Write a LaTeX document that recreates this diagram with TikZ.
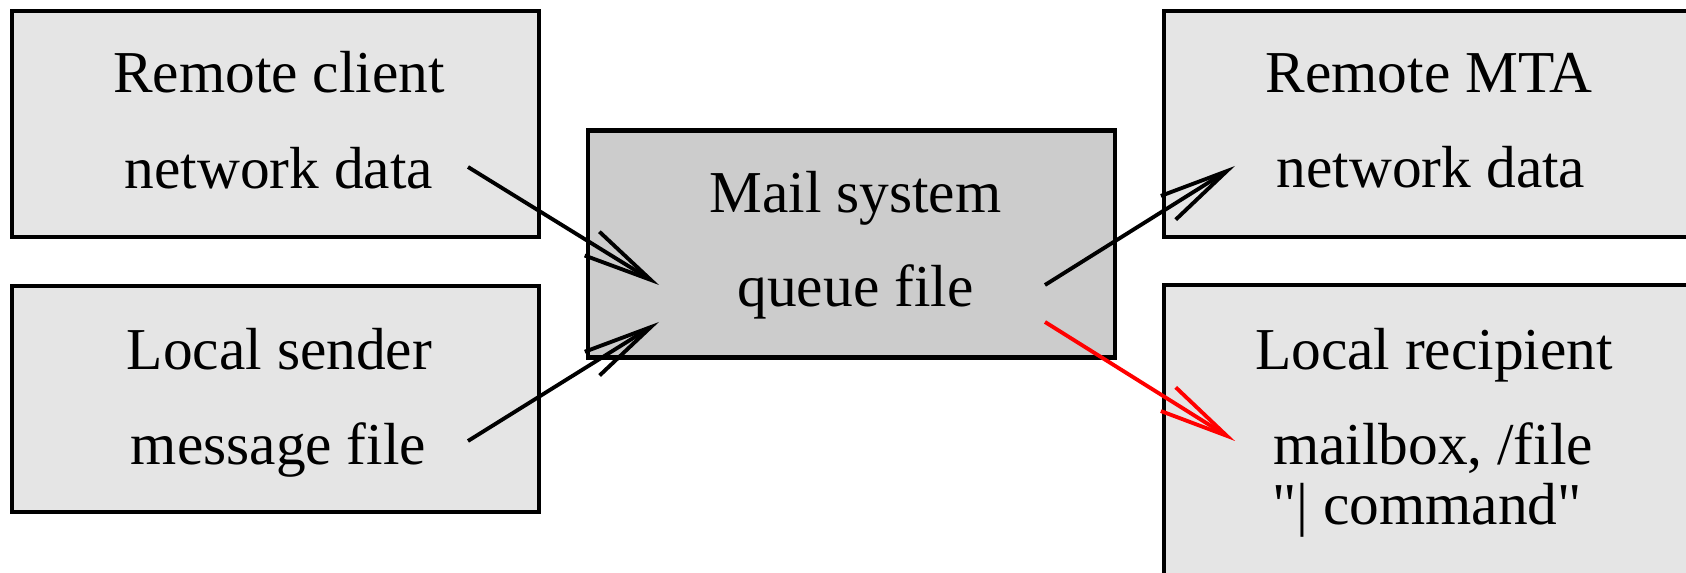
\documentclass[tikz,border=0pt]{standalone}
\usepackage{fontspec}
\setmainfont{Liberation Serif}[Ligatures=TeXOff]
\usetikzlibrary{arrows.meta}

\begin{document}
\begin{tikzpicture}[x=1cm,y=1cm,line width=1.25pt,
  box/.style={draw,minimum width=5.27cm,minimum height=2.26cm,inner sep=0pt},
  lbl/.style={anchor=base,inner sep=0pt,font=\fontsize{16.9}{20}\selectfont},
  flow/.style={line width=1.1pt,-{Straight Barb[length=6.9mm,width=2.8mm]}}]
 \useasboundingbox (0,0) rectangle (16.86,5.73);
 % boxes
 \foreach \nm/\x/\y/\h/\shade in {client/2.755/4.487/2.26/10,sender/2.755/1.74/2.26/10,
   queue/8.517/3.29/2.27/20,mta/14.275/4.487/2.26/10,rcpt/14.275/1.18/3.4/10}{%
   \node[box,fill=black!\shade,minimum height=\h cm] (\nm) at (\x,\y) {};
 }
 % texts, one node per line
 \foreach \nm/\x/\y/\txt in {clienttitle/2.79/4.80/Remote client,clientdata/2.79/3.84/network data,
   sendertitle/2.795/2.03/Local sender,senderdata/2.785/1.08/message file,
   queuetitle/8.555/3.60/Mail system,queuedata/8.555/2.66/queue file,
   mtatitle/14.29/4.80/Remote MTA,mtadata/14.31/3.85/network data,
   rcpttitle/14.34/2.03/Local recipient,rcptdata/14.33/1.08/{mailbox, /file},
   rcptcmd/14.27/0.48/{"| command"}}{%
   \node[lbl] (\nm) at (\x,\y) {\txt};
 }
 \coordinate (clientout) at (4.68,4.06);
 \coordinate (senderout) at (4.68,1.32);
 \coordinate (queuein1) at (6.59,2.88);
 \coordinate (queuein2) at (6.59,2.51);
 \coordinate (queueout1) at (10.45,2.88);
 \coordinate (queueout2) at (10.45,2.51);
 \coordinate (mtain) at (12.35,4.07);
 \coordinate (rcptin) at (12.35,1.32);
 \draw[flow] (clientout) -- (queuein1);
 \draw[flow] (senderout) -- (queuein2);
 \draw[flow] (queueout1) -- (mtain);
 \draw[flow,red] (queueout2) -- (rcptin);
\end{tikzpicture}
\end{document}
